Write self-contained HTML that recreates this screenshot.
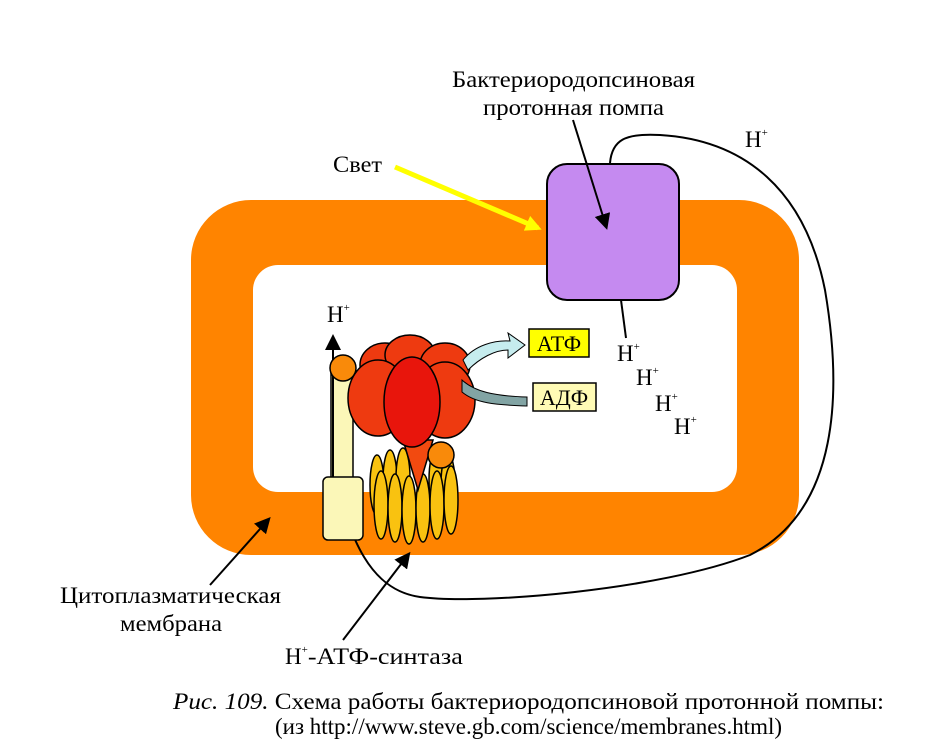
<!DOCTYPE html>
<html><head><meta charset="utf-8"><style>html,body{margin:0;padding:0;background:#fff}svg{display:block}</style></head>
<body>
<svg width="946" height="751" viewBox="0 0 946 751" xmlns="http://www.w3.org/2000/svg" font-family="Liberation Serif, serif">
<defs>
<marker id="ahs" markerWidth="16" markerHeight="16" refX="12" refY="8" orient="auto" markerUnits="userSpaceOnUse"><path d="M0,0 L16,8 L0,16 z" fill="#000"/></marker>
<marker id="ay" markerWidth="16" markerHeight="16" refX="12" refY="8" orient="auto" markerUnits="userSpaceOnUse"><path d="M0,0 L16,8 L0,16 z" fill="#ffff00"/></marker>
</defs>
<path fill-rule="evenodd" fill="#ff8400" d="M251,200 H739 A60,60 0 0 1 799,260 V495 A60,60 0 0 1 739,555 H251 A60,60 0 0 1 191,495 V260 A60,60 0 0 1 251,200 Z M278,265 H712 A25,25 0 0 1 737,290 V467 A25,25 0 0 1 712,492 H278 A25,25 0 0 1 253,467 V290 A25,25 0 0 1 278,265 Z"/>
<rect x="547" y="164" width="132" height="136" rx="20" fill="#c58af0" stroke="#000" stroke-width="2"/>
<path d="M610,163 C612,140 625,133 660,135 C745,140 805,190 825,290 C842,390 840,510 750,555 C660,590 480,605 420,597 C370,590 350,540 333,470" fill="none" stroke="#000" stroke-width="2"/>
<line x1="621" y1="300" x2="626" y2="338" stroke="#000" stroke-width="2"/>
<line x1="395" y1="167" x2="538" y2="228" stroke="#ffff00" stroke-width="5" marker-end="url(#ay)"/>
<line x1="573" y1="120" x2="606" y2="226" stroke="#000" stroke-width="2" marker-end="url(#ahs)"/>
<rect x="331" y="368" width="22" height="115" fill="#fbf7b8" stroke="#000" stroke-width="1.5"/>
<line x1="333" y1="480" x2="333" y2="338" stroke="#000" stroke-width="2" marker-end="url(#ahs)"/>
<rect x="323" y="477" width="40" height="63" rx="5" fill="#fbf7b8" stroke="#000" stroke-width="1.5"/>
<g fill="#f9c210" stroke="#000" stroke-width="1.5">
<ellipse cx="377" cy="485" rx="7" ry="30"/><ellipse cx="390" cy="480" rx="7" ry="30"/><ellipse cx="403" cy="478" rx="7" ry="30"/><ellipse cx="436" cy="480" rx="7" ry="30"/><ellipse cx="448" cy="484" rx="7" ry="30"/>
<ellipse cx="381" cy="505" rx="7" ry="34"/><ellipse cx="395" cy="508" rx="7" ry="34"/><ellipse cx="409" cy="510" rx="7" ry="34"/><ellipse cx="423" cy="508" rx="7" ry="34"/><ellipse cx="437" cy="505" rx="7" ry="34"/><ellipse cx="451" cy="500" rx="7" ry="34"/>
</g>
<path d="M403,440 L433,440 L418,490 Z" fill="#f24a10" stroke="#000" stroke-width="1.5"/>
<circle cx="441" cy="455" r="13" fill="#f98a0a" stroke="#000" stroke-width="1.5"/>
<circle cx="343" cy="368" r="13" fill="#f98a0a" stroke="#000" stroke-width="1.5"/>
<g fill="#ee3a10" stroke="#000" stroke-width="1.5">
<ellipse cx="385" cy="365" rx="25" ry="22"/><ellipse cx="410" cy="355" rx="25" ry="20"/><ellipse cx="445" cy="365" rx="25" ry="22"/>
<ellipse cx="378" cy="398" rx="30" ry="38"/><ellipse cx="445" cy="400" rx="30" ry="38"/>
</g>
<ellipse cx="412" cy="402" rx="28" ry="45" fill="#e8150c" stroke="#000" stroke-width="1.5"/>
<path d="M463,360 C475,345 495,340 510,341 L508,333 L525,345 L508,358 L508,350 C495,350 480,358 468,370 Z" fill="#c6ecee" stroke="#000" stroke-width="1"/>
<path d="M462,380 C475,392 495,396 527,397 L527,406 C495,405 475,403 462,392 Z" fill="#82a4a4" stroke="#000" stroke-width="1"/>
<rect x="529" y="329" width="60" height="28" fill="#ffff00" stroke="#000" stroke-width="1.5"/>
<text x="559" y="351" font-size="22" text-anchor="middle">АТФ</text>
<rect x="533" y="383" width="63" height="28" fill="#fffbb5" stroke="#000" stroke-width="1.5"/>
<text x="564" y="405" font-size="22" text-anchor="middle">АДФ</text>
<line x1="210" y1="585" x2="268" y2="520" stroke="#000" stroke-width="2" marker-end="url(#ahs)"/>
<line x1="343" y1="640" x2="408" y2="555" stroke="#000" stroke-width="2" marker-end="url(#ahs)"/>
<g font-size="23">
<text x="452" y="87" textLength="243" lengthAdjust="spacingAndGlyphs">Бактериородопсиновая</text>
<text x="483" y="115" textLength="181" lengthAdjust="spacingAndGlyphs">протонная помпа</text>
<text x="333" y="172" textLength="49" lengthAdjust="spacingAndGlyphs">Свет</text>
<text x="745" y="147">H<tspan font-size="11" dy="-11">+</tspan></text>
<text x="327" y="322">H<tspan font-size="11" dy="-11">+</tspan></text>
<text x="617" y="361">H<tspan font-size="11" dy="-11">+</tspan></text>
<text x="636" y="385">H<tspan font-size="11" dy="-11">+</tspan></text>
<text x="655" y="411">H<tspan font-size="11" dy="-11">+</tspan></text>
<text x="674" y="434">H<tspan font-size="11" dy="-11">+</tspan></text>
<text x="60" y="603" textLength="221" lengthAdjust="spacingAndGlyphs">Цитоплазматическая</text>
<text x="120" y="631" textLength="102" lengthAdjust="spacingAndGlyphs">мембрана</text>
<text x="285" y="664">H<tspan font-size="11" dy="-11">+</tspan><tspan dy="11" textLength="155" lengthAdjust="spacingAndGlyphs">-АТФ-синтаза</tspan></text>
<text x="173" y="709" textLength="711" lengthAdjust="spacingAndGlyphs"><tspan font-style="italic">Рис. 109.</tspan> Схема работы бактериородопсиновой протонной помпы:</text>
<text x="275" y="734" textLength="507" lengthAdjust="spacingAndGlyphs">(из http://www.steve.gb.com/science/membranes.html)</text>
</g>
</svg>
</body></html>
